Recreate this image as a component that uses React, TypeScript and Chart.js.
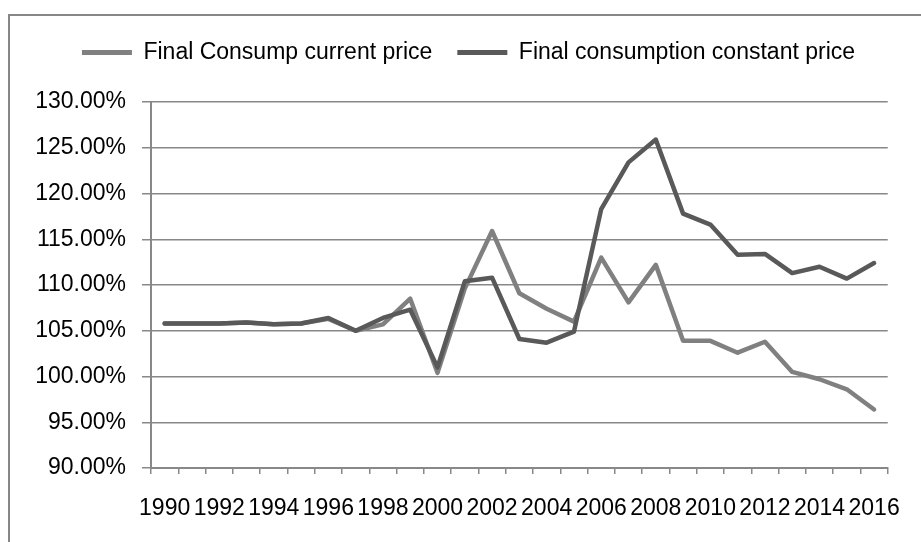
import { useEffect, useRef } from 'react';
import { Chart, registerables } from 'chart.js';

Chart.register(...registerables);

const years = [
  '1990', '1991', '1992', '1993', '1994', '1995', '1996', '1997', '1998',
  '1999', '2000', '2001', '2002', '2003', '2004', '2005', '2006', '2007',
  '2008', '2009', '2010', '2011', '2012', '2013', '2014', '2015', '2016',
];

const currentPrice = [
  105.8, 105.8, 105.8, 105.9, 105.7, 105.8, 106.3, 105.0, 105.7,
  108.5, 100.4, 109.6, 115.9, 109.1, 107.4, 106.0, 113.0, 108.1,
  112.2, 103.9, 103.9, 102.6, 103.8, 100.5, 99.7, 98.6, 96.4,
];

const constantPrice = [
  105.8, 105.8, 105.8, 105.9, 105.7, 105.8, 106.4, 105.0, 106.4,
  107.3, 101.0, 110.4, 110.8, 104.1, 103.7, 104.9, 118.3, 123.4,
  125.9, 117.8, 116.6, 113.3, 113.4, 111.3, 112.0, 110.7, 112.4,
];

const seriesLabels = ['Final Consump current price', 'Final consumption constant price'];
const yMin = 90;
const yMax = 130;
const yStep = 5;

export default function App() {
  const ref = useRef<HTMLCanvasElement>(null);

  useEffect(() => {
    if (!ref.current) return;
    const extraGap = 28;
    const legendGap = {
      id: 'legendGap',
      beforeLayout(chart: any) {
        const lg = chart.legend;
        if (lg && !lg._gapPatched) {
          const orig = lg.fit.bind(lg);
          lg.fit = function () {
            orig();
            this.height += extraGap;
          };
          lg._gapPatched = true;
        }
      },
    };

    const font = { family: "'Liberation Sans', Arial, sans-serif", size: 23 };

    const chart = new Chart(ref.current, {
      type: 'line',
      data: {
        labels: years,
        datasets: [
          {
            label: seriesLabels[0],
            data: currentPrice,
            borderColor: '#808080',
            backgroundColor: '#808080',
            borderWidth: 4.5,
            pointRadius: 0,
            tension: 0,
            borderJoinStyle: 'round',
            borderCapStyle: 'round',
            order: 1,
          },
          {
            label: seriesLabels[1],
            data: constantPrice,
            borderColor: '#595959',
            backgroundColor: '#595959',
            borderWidth: 4.5,
            pointRadius: 0,
            tension: 0,
            borderJoinStyle: 'round',
            borderCapStyle: 'round',
            order: 0,
          },
        ],
      },
      options: {
        responsive: false,
        animation: false,
        devicePixelRatio: 1,
        layout: { padding: { left: 24, right: 18, top: 0, bottom: 0 } },
        plugins: {
          tooltip: { enabled: false },
          legend: {
            display: true,
            position: 'top',
            labels: {
              font,
              color: '#000',
              boxWidth: 50,
              boxHeight: 5,
              padding: 25,
              generateLabels: (c: any) =>
                c.data.datasets.map((ds: any, i: number) => ({
                  text: ds.label,
                  fillStyle: ds.borderColor,
                  strokeStyle: ds.borderColor,
                  lineWidth: 0,
                  hidden: false,
                  datasetIndex: i,
                  fontColor: '#000',
                })),
            },
          },
        },
        scales: {
          x: {
            type: 'category',
            offset: true,
            grid: {
              offset: true,
              drawOnChartArea: false,
              drawTicks: true,
              tickLength: 6,
              color: '#888',
              lineWidth: 1.5,
            },
            border: { color: '#888', width: 2 },
            ticks: {
              autoSkip: false,
              maxRotation: 0,
              minRotation: 0,
              padding: 21,
              color: '#000',
              font,
              callback: (_v: any, i: number) => (i % 2 === 0 ? years[i] : ''),
            },
            afterFit: (s: any) => {
              s.height = 74;
            },
          },
          y: {
            min: yMin,
            max: yMax,
            grid: {
              color: '#888',
              lineWidth: 1.5,
              drawTicks: true,
              tickLength: 9,
            },
            border: { color: '#888', width: 2 },
            ticks: {
              stepSize: yStep,
              padding: 16,
              color: '#000',
              font,
              callback: (v: any) => Number(v).toFixed(2) + '%',
            },
            afterFit: (s: any) => {
              s.width = 117;
            },
          },
        },
      },
      plugins: [legendGap],
    } as any);

    return () => chart.destroy();
  }, []);

  return (
    <div
      style={{
        position: 'absolute',
        left: 8,
        top: 14,
        width: 913,
        height: 528,
        borderTop: '2px solid #878787',
        borderLeft: '2px solid #878787',
        boxSizing: 'border-box',
        background: '#fff',
      }}
    >
      <canvas ref={ref} width={911} height={526} style={{ display: 'block' }} />
    </div>
  );
}
